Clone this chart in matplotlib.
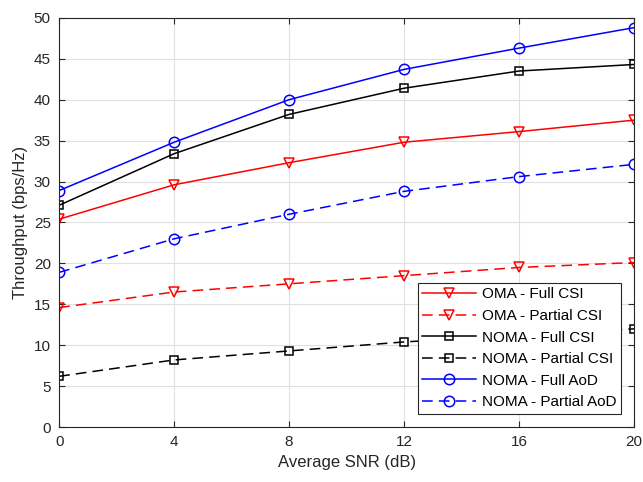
import matplotlib
matplotlib.use("Agg")
import matplotlib.pyplot as plt

plt.rcParams['font.family'] = ['Liberation Sans', 'DejaVu Sans']

snr = [0, 4, 8, 12, 16, 20]
oma_full = [25.4, 29.6, 32.3, 34.8, 36.1, 37.5]
oma_partial = [14.6, 16.5, 17.5, 18.5, 19.5, 20.1]
noma_full_csi = [27.1, 33.4, 38.2, 41.4, 43.5, 44.3]
noma_partial_csi = [6.2, 8.2, 9.3, 10.4, 11.2, 12.0]
noma_full_aod = [28.9, 34.8, 40.0, 43.7, 46.3, 48.8]
noma_partial_aod = [18.9, 23.0, 26.0, 28.8, 30.6, 32.1]

fig = plt.figure(figsize=(6.43, 4.82), dpi=100)
ax = fig.add_axes([0.092, 0.114, 0.894, 0.849])

dash = (0, (7, 4))
mk = dict(markerfacecolor="none", markeredgewidth=1.1, linewidth=1.1)
ax.plot(snr, oma_full, color="red", marker="v", markersize=7.5, label="OMA - Full CSI", **mk)
ax.plot(snr, oma_partial, color="red", marker="v", markersize=7.5, linestyle=dash,
        label="OMA - Partial CSI", **mk)
ax.plot(snr, noma_full_csi, color="black", marker="s", markersize=6, label="NOMA - Full CSI", **mk)
ax.plot(snr, noma_partial_csi, color="black", marker="s", markersize=6, linestyle=dash,
        label="NOMA - Partial CSI", **mk)
ax.plot(snr, noma_full_aod, color="blue", marker="o", markersize=7.5, label="NOMA - Full AoD", **mk)
ax.plot(snr, noma_partial_aod, color="blue", marker="o", markersize=7.5, linestyle=dash,
        label="NOMA - Partial AoD", **mk)

ax.set_xlim(0, 20)
ax.set_ylim(0, 50)
ax.set_xticks(snr)
ax.set_yticks(range(0, 51, 5))
ax.grid(True, color="#e0e0e0", linewidth=0.8)
ax.set_axisbelow(True)
ax.tick_params(direction="in", length=4, labelsize=11, colors="#262626", top=True, right=True, pad=6)
for s in ax.spines.values():
    s.set_color("#262626")
    s.set_linewidth(0.8)
ax.set_xlabel("Average SNR (dB)", fontsize=12, color="#262626")
ax.set_ylabel("Throughput (bps/Hz)", fontsize=12, color="#262626")

leg = ax.legend(loc="lower right", fontsize=11, fancybox=False, framealpha=1,
                edgecolor="#262626", borderaxespad=0.85, handlelength=3.5,
                labelspacing=0.5, borderpad=0.3, handletextpad=0.4)
leg.get_frame().set_linewidth(0.8)

fig.savefig("out.png", dpi=100)
